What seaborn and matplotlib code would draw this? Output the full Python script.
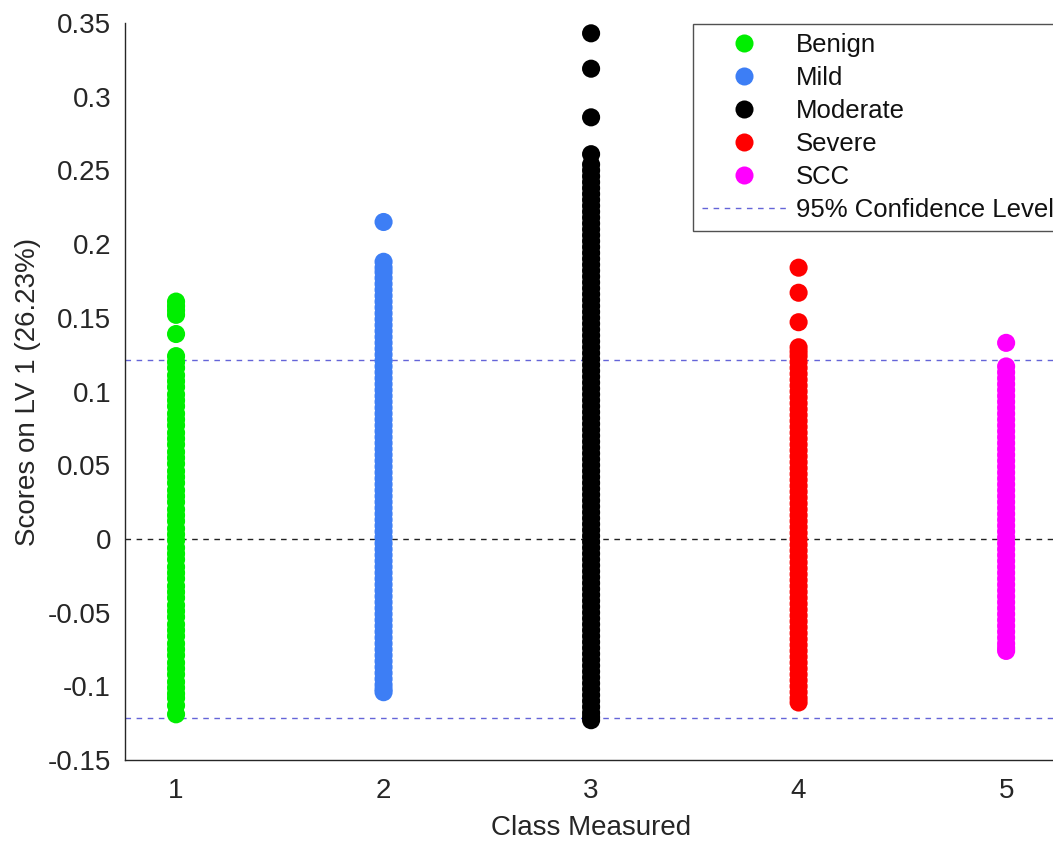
import numpy as np
import pandas as pd
import matplotlib
matplotlib.use("Agg")
import matplotlib.pyplot as plt
from matplotlib.lines import Line2D
import seaborn as sns

# ---- data -------------------------------------------------------------
class_names = ["Benign", "Mild", "Moderate", "Severe", "SCC"]
class_ids = [1, 2, 3, 4, 5]
class_colors = ["#00EE00", "#3D7EF5", "#000000", "#FF0000", "#FF00FF"]

benign_scores = [
    0.161, 0.158, 0.155, 0.152, 0.139,
    0.124, 0.120, 0.116, 0.111, 0.107, 0.103, 0.098, 0.094, 0.090, 0.085,
    0.081, 0.077, 0.072, 0.068, 0.064, 0.059, 0.055, 0.051, 0.046, 0.042,
    0.038, 0.033, 0.029, 0.025, 0.020, 0.016, 0.012, 0.007, 0.003, -0.001,
    -0.006, -0.010, -0.014, -0.019, -0.023, -0.027, -0.032, -0.036, -0.040,
    -0.045, -0.049, -0.053, -0.058, -0.062, -0.066, -0.071, -0.075, -0.079,
    -0.084, -0.088, -0.092, -0.097, -0.101, -0.105, -0.108, -0.113, -0.119,
]
mild_scores = [
    0.215,
    0.188, 0.184, 0.181, 0.177, 0.173, 0.169, 0.165, 0.161, 0.157, 0.153,
    0.149, 0.145, 0.141, 0.137, 0.133, 0.129, 0.125, 0.121, 0.117, 0.113,
    0.109, 0.105, 0.101, 0.097, 0.093, 0.089, 0.085, 0.081, 0.077, 0.073,
    0.069, 0.065, 0.061, 0.057, 0.053, 0.049, 0.045, 0.041, 0.037, 0.033,
    0.029, 0.025, 0.021, 0.017, 0.013, 0.009, 0.005, 0.001, -0.003, -0.007,
    -0.011, -0.015, -0.019, -0.023, -0.027, -0.031, -0.035, -0.039, -0.043,
    -0.047, -0.051, -0.055, -0.059, -0.063, -0.067, -0.071, -0.075, -0.079,
    -0.083, -0.087, -0.091, -0.095, -0.099, -0.102, -0.104,
]
moderate_scores = [
    0.343, 0.319, 0.286, 0.261,
    0.254, 0.250, 0.246, 0.242, 0.238, 0.234, 0.230, 0.226, 0.222, 0.218,
    0.214, 0.210, 0.206, 0.202, 0.198, 0.194, 0.190, 0.186, 0.182, 0.178,
    0.174, 0.170, 0.166, 0.162, 0.158, 0.154, 0.150, 0.146, 0.142, 0.138,
    0.134, 0.130, 0.126, 0.122, 0.118, 0.114, 0.110, 0.106, 0.102, 0.098,
    0.094, 0.090, 0.086, 0.082, 0.078, 0.074, 0.070, 0.066, 0.062, 0.058,
    0.054, 0.050, 0.046, 0.042, 0.038, 0.034, 0.030, 0.026, 0.022, 0.018,
    0.014, 0.010, 0.006, 0.002, -0.002, -0.006, -0.010, -0.014, -0.018,
    -0.022, -0.026, -0.030, -0.034, -0.038, -0.042, -0.046, -0.050, -0.054,
    -0.058, -0.062, -0.066, -0.070, -0.074, -0.078, -0.082, -0.086, -0.090,
    -0.094, -0.098, -0.102, -0.106, -0.110, -0.114, -0.118, -0.121, -0.123,
]
severe_scores = [
    0.184, 0.167, 0.147,
    0.130, 0.127, 0.124, 0.120, 0.116, 0.112, 0.108, 0.104, 0.100, 0.096,
    0.092, 0.088, 0.084, 0.080, 0.076, 0.072, 0.068, 0.064, 0.060, 0.056,
    0.052, 0.048, 0.044, 0.040, 0.036, 0.032, 0.028, 0.024, 0.020, 0.016,
    0.012, 0.008, 0.004, 0.000, -0.004, -0.008, -0.012, -0.016, -0.020,
    -0.024, -0.028, -0.032, -0.036, -0.040, -0.044, -0.048, -0.052, -0.056,
    -0.060, -0.064, -0.068, -0.072, -0.076, -0.080, -0.084, -0.088, -0.092,
    -0.096, -0.100, -0.104, -0.108, -0.111,
]
scc_scores = [
    0.133,
    0.117, 0.113, 0.109, 0.105, 0.101, 0.097, 0.093, 0.089, 0.085, 0.081,
    0.077, 0.073, 0.069, 0.065, 0.061, 0.057, 0.053, 0.049, 0.045, 0.041,
    0.037, 0.033, 0.029, 0.025, 0.021, 0.017, 0.013, 0.009, 0.005, 0.001,
    -0.003, -0.007, -0.011, -0.015, -0.019, -0.023, -0.027, -0.031, -0.035,
    -0.039, -0.043, -0.047, -0.051, -0.055, -0.059, -0.063, -0.067, -0.071,
    -0.074, -0.076,
]
confidence_limit = 0.1215
x_ticks = [1, 2, 3, 4, 5]
y_ticks = [-0.15, -0.1, -0.05, 0, 0.05, 0.1, 0.15, 0.2, 0.25, 0.3, 0.35]
y_tick_labels = ["-0.15", "-0.1", "-0.05", "0", "0.05", "0.1", "0.15",
                 "0.2", "0.25", "0.3", "0.35"]

all_scores = [benign_scores, mild_scores, moderate_scores, severe_scores, scc_scores]
frames = []
for cid, name, scores in zip(class_ids, class_names, all_scores):
    frames.append(pd.DataFrame({"Class": cid, "Group": name, "Score": scores}))
df = pd.concat(frames, ignore_index=True)

# ---- figure -----------------------------------------------------------
sns.set_style("white")
plt.rcParams["font.family"] = ["Liberation Sans", "DejaVu Sans"]

W, H = 1053, 841
fig = plt.figure(figsize=(W / 100, H / 100), dpi=100)
ax_left, ax_right, ax_top, ax_bottom = 125, 1058, 23, 760
ax = fig.add_axes([ax_left / W, 1 - ax_bottom / H,
                   (ax_right - ax_left) / W, (ax_bottom - ax_top) / H])

palette = dict(zip(class_names, class_colors))
sns.scatterplot(data=df, x="Class", y="Score", hue="Group", palette=palette,
                hue_order=class_names, s=170, linewidth=0, alpha=1,
                legend=False, ax=ax, zorder=3)

conf_color = "#6464D8"
ax.axhline(confidence_limit, color=conf_color, ls=(0, (4, 4)), lw=1.0, zorder=2)
ax.axhline(-confidence_limit, color=conf_color, ls=(0, (4, 4)), lw=1.0, zorder=2)
ax.axhline(0, color="#222222", ls=(0, (4, 4)), lw=1.0, zorder=2)

ax.set_xlim(0.754, 5.25)
ax.set_ylim(-0.15, 0.35)
ax.set_xticks(x_ticks)
ax.set_yticks(y_ticks)
ax.set_yticklabels(y_tick_labels)
ax.tick_params(direction="in", length=7, width=1.0, colors="#262626",
               labelsize=20, labelcolor="#262626")
ax.tick_params(axis="y", pad=10)
ax.tick_params(axis="x", pad=13)
for side in ["top", "right"]:
    ax.spines[side].set_visible(False)
for side in ["left", "bottom"]:
    ax.spines[side].set_color("#262626")
    ax.spines[side].set_linewidth(1.0)

ax.set_xlabel("Class Measured", fontsize=20, color="#262626", labelpad=8)
ax.set_ylabel("Scores on LV 1 (26.23%)", fontsize=20, color="#262626", labelpad=5)

handles = [Line2D([], [], ls="none", marker="o", markersize=13,
                  markerfacecolor=c, markeredgewidth=0) for c in class_colors]
handles.append(Line2D([], [], color=conf_color, ls=(0, (4, 4)), lw=1.0))
labels = class_names + ["95% Confidence Level"]
leg = fig.legend(handles, labels, loc="upper left",
                 bbox_to_anchor=(693 / W, 1 - 24 / H),
                 frameon=True, fancybox=False, fontsize=18.5,
                 handlelength=3.27, handletextpad=0.39, borderpad=0.35,
                 labelspacing=0.35, borderaxespad=0)
leg.get_frame().set_edgecolor("#262626")
leg.get_frame().set_linewidth(1.0)
for t in leg.get_texts():
    t.set_color("#111111")

fig.savefig("out.png", dpi=100)
